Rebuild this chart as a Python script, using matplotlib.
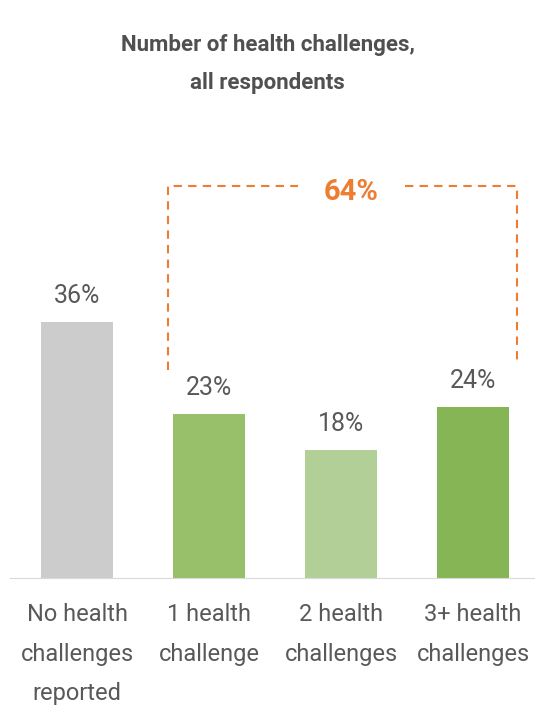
import matplotlib
matplotlib.use("Agg")
import matplotlib.pyplot as plt

categories = ["No health\nchallenges\nreported", "1 health\nchallenge",
              "2 health\nchallenges", "3+ health\nchallenges"]
values = [36, 23, 18, 24]
labels = ["36%", "23%", "18%", "24%"]
bar_colors = ["#cccccc", "#98bf6a", "#b3cf98", "#86b555"]
total_label = "64%"
title = "Number of health challenges,\nall respondents"

plt.rcParams["font.family"] = ["Roboto", "DejaVu Sans"]
TXT = "#595959"
ORANGE = "#ed7d31"

fig = plt.figure(figsize=(5.35, 7.07), dpi=100)
ax = fig.add_axes([10 / 535, 129 / 707, 525 / 535, 478 / 707])
x = range(len(values))
ax.bar(x, values, width=0.55, color=bar_colors)
for i, v in enumerate(values):
    ax.text(i, v + 3.7, labels[i], ha="center", va="center", fontsize=18, color=TXT)

ax.set_xlim(-0.508, 3.47)
ax.set_ylim(0, 67.2)
ax.set_xticks(list(x))
ax.set_xticklabels(categories, fontsize=17, color=TXT, linespacing=1.93)
ax.tick_params(axis="x", length=0, pad=18)
ax.set_yticks([])
for s in ["top", "right", "left"]:
    ax.spines[s].set_visible(False)
ax.spines["bottom"].set_color("#d9d9d9")

# bracket over the bars with health challenges
dash = dict(color=ORANGE, lw=1.5, linestyle=(0, (4, 3)))
ax.plot([0.689, 0.689, 1.674], [29.2, 55.1, 55.1], **dash)
ax.plot([2.485, 3.333, 3.333], [55.1, 55.1, 30.7], **dash)
ax.text(2.08, 54.2, total_label, ha="center", va="center", fontsize=21,
        fontweight="bold", color=ORANGE)

fig.text(0.5, 1 - 64 / 707, title, ha="center", va="center", fontsize=16,
         fontweight="bold", color="#505050", linespacing=2.0)

fig.savefig("out.png", dpi=100)
